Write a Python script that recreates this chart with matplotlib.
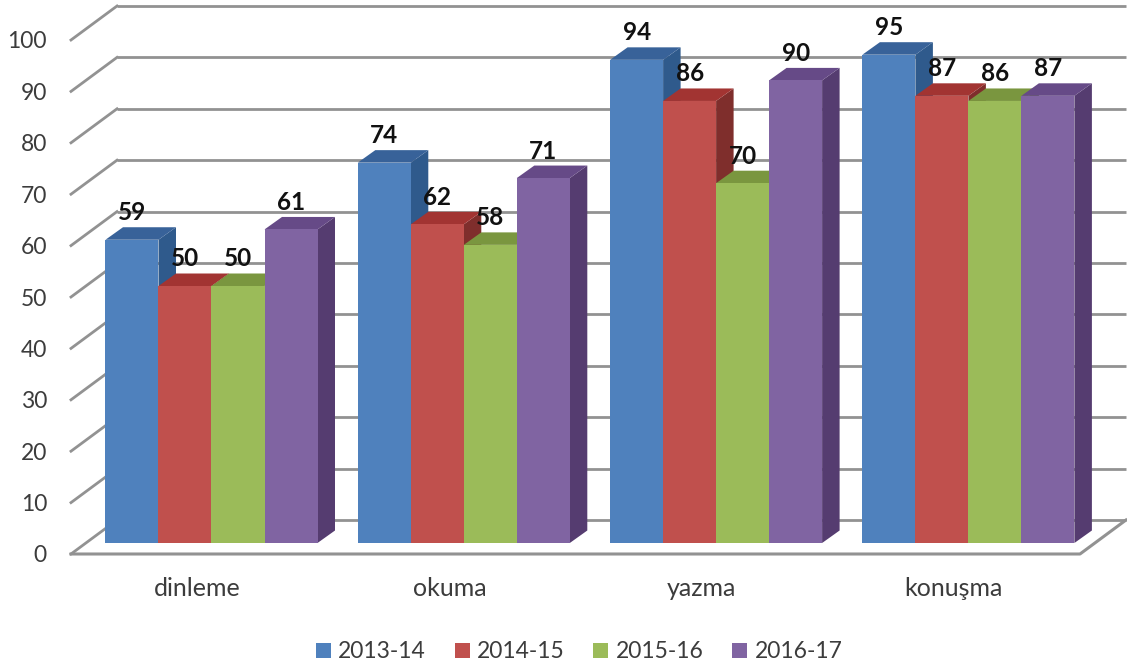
import matplotlib
matplotlib.use('Agg')
import matplotlib.pyplot as plt
import numpy as np
from matplotlib.patches import Patch, Polygon

plt.rcParams['font.family'] = ['Lato', 'DejaVu Sans']

categories = ['dinleme', 'okuma', 'yazma', 'konuşma']
years = ['2013-14', '2014-15', '2015-16', '2016-17']
values_1314 = [59, 74, 94, 95]
values_1415 = [50, 62, 86, 87]
values_1516 = [50, 58, 70, 86]
values_1617 = [61, 71, 90, 87]
y_ticks = [0, 10, 20, 30, 40, 50, 60, 70, 80, 90, 100]

all_values = [values_1314, values_1415, values_1516, values_1617]
front_colors = ['#4F81BD', '#C0504D', '#9BBB59', '#8064A2']
top_colors = ['#386299', '#A23432', '#7A963F', '#664A87']
side_colors = ['#2F5A8C', '#7F2E2C', '#6C8838', '#553C70']
grid_color = '#929292'
text_color = '#3C3C3C'

W, H = 1127, 666
group_px = 252.3    # one category, in pixels
unit_px = 5.14      # one y unit, in pixels
x0_px = 211.5       # centre of first bar group
y0_px = 543         # foot of the bars
bar_w = 53 / group_px

# depth of a bar
depth_x = 17.5 / group_px
depth_y = 12.5 / unit_px

# the box behind the bars
wall_left = (71 - x0_px) / group_px
wall_right = (1080 - x0_px) / group_px
wall_dx = 46 / group_px
wall_front = -11 / unit_px
wall_back = 23 / unit_px

fig = plt.figure(figsize=(W / 100, H / 100), dpi=100)
ax = fig.add_axes([0, 0, 1, 1])
ax.set_xlim(-x0_px / group_px, (W - x0_px) / group_px)
ax.set_ylim((y0_px - H) / unit_px, y0_px / unit_px)
ax.axis('off')

# back wall and left wall lines
for t in y_ticks:
    ax.plot([wall_left + wall_dx, wall_right + wall_dx], [t + wall_back, t + wall_back],
            color=grid_color, lw=2, zorder=1, solid_capstyle='butt')
    ax.plot([wall_left, wall_left + wall_dx], [t + wall_front, t + wall_back],
            color=grid_color, lw=2, zorder=1)
    ax.text(wall_left - 24 / group_px, t + wall_front - 2 / unit_px, str(t), ha='right', va='center',
            fontsize=16.5, color=text_color, zorder=1)

# floor
ax.plot([wall_left, wall_right, wall_right + wall_dx],
        [wall_front, wall_front, wall_back],
        color=grid_color, lw=2.2, zorder=1)

# bars, left to right so each one sits over the side of the previous
z = 2
for i in range(len(categories)):
    for j, series in enumerate(all_values):
        x = i + (j - 1.5) * bar_w
        v = series[i]
        l, r = x - bar_w / 2, x + bar_w / 2
        side = Polygon([(r, 0), (r + depth_x, depth_y), (r + depth_x, v + depth_y), (r, v)],
                       closed=True, facecolor=side_colors[j], edgecolor='none', zorder=z)
        top = Polygon([(l, v), (l + depth_x, v + depth_y), (r + depth_x, v + depth_y), (r, v)],
                      closed=True, facecolor=top_colors[j], edgecolor='none', zorder=z)
        ax.add_patch(side)
        ax.add_patch(top)
        ax.bar(x, v, width=bar_w, color=front_colors[j], zorder=z + 0.5)
        z += 1

# value labels over everything
for i in range(len(categories)):
    for j, series in enumerate(all_values):
        x = i + (j - 1.5) * bar_w
        ax.text(x, series[i] + 27 / unit_px, str(series[i]), ha='center', va='center',
                fontsize=17.5, fontweight='bold', color='#111111', zorder=100)

# category labels, centred on the front of the floor
slot = (wall_right - wall_left) / len(categories)
for i, name in enumerate(categories):
    ax.text(wall_left + (i + 0.5) * slot, wall_front - 35 / unit_px, name, ha='center', va='center',
            fontsize=18, color=text_color, zorder=1)

handles = [Patch(facecolor=c, edgecolor='none') for c in front_colors]
ax.legend(handles, years, ncol=4, loc='center', bbox_to_anchor=(0.514, 1 - 652 / H),
          frameon=False, fontsize=16.5, labelcolor=text_color,
          handlelength=0.65, handleheight=0.65, handletextpad=0.33, columnspacing=1.25,
          borderpad=0, borderaxespad=0)

fig.savefig('out.png', dpi=100)
